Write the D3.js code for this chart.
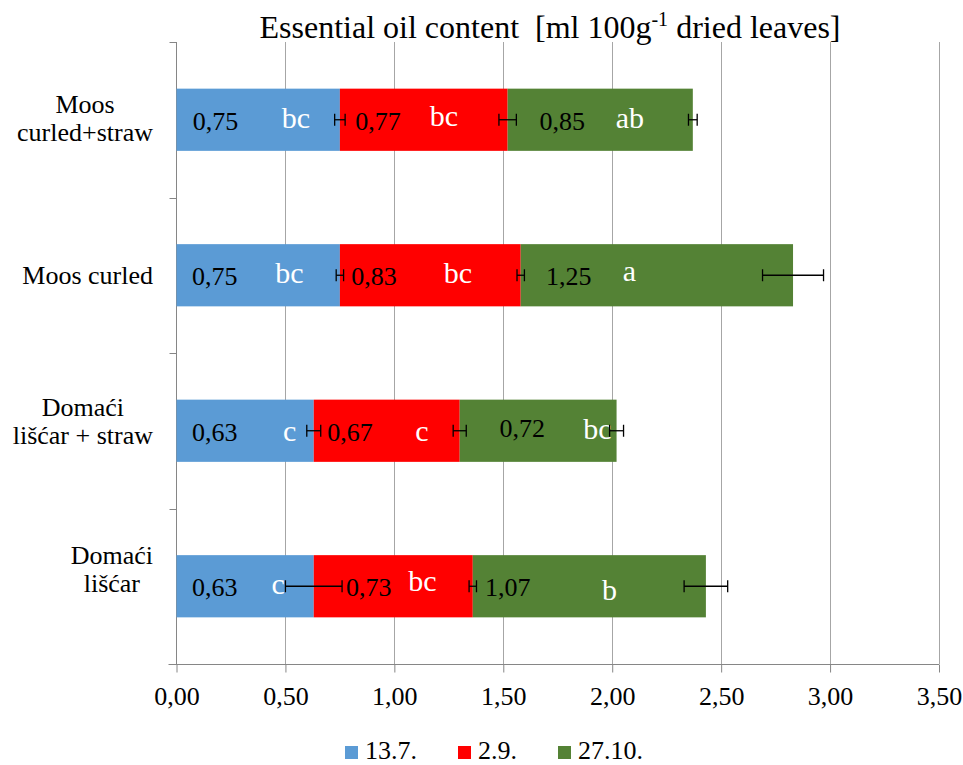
<!DOCTYPE html>
<html><head><meta charset="utf-8">
<script src="https://cdn.jsdelivr.net/npm/d3@7"></script>
<style>
html,body{margin:0;padding:0;background:#fff;}
svg{display:block;}
svg text{font-family:"Liberation Serif","Times New Roman",serif;}
</style></head>
<body>
<svg id="chart" width="963" height="765"></svg>
<script>
// ---- data ----
const categories = ["Moos curled+straw", "Moos curled", "Domaći lišćar + straw", "Domaći lišćar"];
const categoryLines = [["Moos", "curled+straw"], ["Moos curled"], ["Domaći", "lišćar + straw"], ["Domaći", "lišćar"]];
const seriesNames = ["13.7.", "2.9.", "27.10."];
const values137 = [0.75, 0.75, 0.63, 0.63];
const values29 = [0.77, 0.83, 0.67, 0.73];
const values2710 = [0.85, 1.25, 0.72, 1.07];
const err137 = [0.024, 0.017, 0.032, 0.13];
const err29 = [0.04, 0.017, 0.03, 0.017];
const err2710 = [0.02, 0.14, 0.032, 0.10];
const letters137 = ["bc", "bc", "c", "c"];
const letters29 = ["bc", "bc", "c", "bc"];
const letters2710 = ["ab", "a", "bc", "b"];
const xTicks = [0, 0.5, 1, 1.5, 2, 2.5, 3, 3.5];

// ---- layout (annotation anchors, in axis units) ----
const valueLabelAt = [[0.179, 0.925, 1.771], [0.175, 0.906, 1.80], [0.175, 0.796, 1.587], [0.175, 0.883, 1.52]];
const letterAt = [[0.548, 1.228, 2.081], [0.518, 1.292, 2.079], [0.52, 1.126, 1.932], [0.467, 1.129, 1.987]];
const valueDy = [[0, 0, 0], [0, 0, 0], [0, 0, -4], [0, 0, 0]];
const letterDy = [[0, -2, 0], [0, 0, -2], [2, 2, 0], [0, -3, 6]];
const catLabelShift = [-2, 0, -10, -17];

(function () {
const FONT = "'Liberation Serif', 'Times New Roman', serif";
const colors = ["#5B9BD5", "#FF0000", "#548235"];
const seriesVals = [values137, values29, values2710];
const seriesErr = [err137, err29, err2710];
const seriesLetters = [letters137, letters29, letters2710];

const svg = d3.select("#chart");
const pL = 176.5, pR = 939, pT = 42, pB = 664;

const x = d3.scaleLinear().domain([0, 3.5]).range([pL, pR]);
const y = d3.scaleBand().domain(categories).range([pT, pB]).paddingInner(0.6).paddingOuter(0.3);

// gridlines
svg.append("g").selectAll("line").data(xTicks.slice(1)).join("line")
  .attr("x1", d => Math.round(x(d)) + 0.5).attr("x2", d => Math.round(x(d)) + 0.5)
  .attr("y1", pT).attr("y2", pB)
  .attr("stroke", "#a6a6a6").attr("stroke-width", 1);

// x axis
const xAxis = d3.axisBottom(x).tickValues(xTicks)
  .tickFormat(d => d3.format(".2f")(d).replace(".", ","))
  .tickSize(8).tickPadding(14);
const gx = svg.append("g").attr("transform", `translate(0,${pB + 0.5})`).call(xAxis)
  .attr("font-family", FONT).attr("font-size", 26);
gx.select(".domain").attr("stroke", "#868686").attr("d", `M${pL - 8},0H${pR}`);
gx.selectAll(".tick line").attr("stroke", "#868686");
gx.selectAll(".tick text").attr("fill", "#000");

// y axis line and boundary ticks
svg.append("line").attr("x1", pL).attr("x2", pL).attr("y1", pT).attr("y2", pB)
  .attr("stroke", "#868686");
const bounds = d3.range(categories.length + 1).map(i => pT + i * (pB - pT) / categories.length);
svg.append("g").selectAll("line").data(bounds).join("line")
  .attr("x1", pL - 7).attr("x2", pL).attr("y1", d => Math.round(d) + 0.5).attr("y2", d => Math.round(d) + 0.5)
  .attr("stroke", "#868686");

// category labels
categories.forEach((c, i) => {
  const cy = y(c) + y.bandwidth() / 2;
  const lines = categoryLines[i];
  const t = svg.append("text").attr("font-size", 26).attr("fill", "#000").attr("text-anchor", "middle");
  const spans = lines.map(l => t.append("tspan").text(l));
  const maxW = d3.max(spans, s => s.node().getComputedTextLength());
  const cx = 153 - maxW / 2;
  const first = lines.length === 1 ? cy + 9 : cy + 9 - 14 + catLabelShift[i];
  spans.forEach((s, j) => s.attr("x", cx).attr("y", first + j * 28));
});

// stacked bars
const rows = categories.map((c, i) => {
  let acc = 0;
  return seriesVals.map((v, s) => {
    const d = {cat: c, i, s, x0: acc, x1: acc + v[i], v: v[i], err: seriesErr[s][i], letter: seriesLetters[s][i]};
    acc += v[i];
    return d;
  });
}).flat();

svg.append("g").selectAll("rect").data(rows).join("rect")
  .attr("x", d => x(d.x0)).attr("width", d => x(d.x1) - x(d.x0))
  .attr("y", d => y(d.cat)).attr("height", y.bandwidth())
  .attr("fill", d => colors[d.s]);

// value labels
svg.append("g").selectAll("text").data(rows).join("text")
  .attr("x", d => x(valueLabelAt[d.i][d.s]))
  .attr("y", d => y(d.cat) + y.bandwidth() / 2 + 10 + valueDy[d.i][d.s])
  .attr("text-anchor", "middle").attr("font-size", 26).attr("fill", "#000")
  .text(d => d3.format(".2f")(d.v).replace(".", ","));

// letters
svg.append("g").selectAll("text").data(rows).join("text")
  .attr("x", d => x(letterAt[d.i][d.s]))
  .attr("y", d => y(d.cat) + y.bandwidth() / 2 + 8 + letterDy[d.i][d.s])
  .attr("text-anchor", "middle").attr("font-size", 30).attr("fill", "#fff")
  .text(d => d.letter);

// error bars
const eb = svg.append("g").attr("stroke", "#000").attr("stroke-width", 1.3).attr("fill", "none");
rows.forEach(d => {
  const cy = y(d.cat) + y.bandwidth() / 2;
  const a = x(d.x1 - d.err), b = x(d.x1 + d.err);
  eb.append("line").attr("x1", a).attr("x2", b).attr("y1", cy).attr("y2", cy);
  eb.append("line").attr("x1", a).attr("x2", a).attr("y1", cy - 6).attr("y2", cy + 6);
  eb.append("line").attr("x1", b).attr("x2", b).attr("y1", cy - 6).attr("y2", cy + 6);
});

// title
const title = svg.append("text").attr("font-size", 32).attr("fill", "#000")
  .attr("x", 550).attr("y", 37.5).attr("text-anchor", "middle");
title.append("tspan").text("Essential oil content\u00a0\u00a0[ml 100g");
title.append("tspan").attr("font-size", 20).attr("dy", -12).text("-1");
title.append("tspan").attr("dy", 12).text(" dried leaves]");

// legend
const legX = [345, 458, 558];
const leg = svg.append("g").selectAll("g").data(seriesNames).join("g")
  .attr("transform", (d, i) => `translate(${legX[i]},746)`);
leg.append("rect").attr("width", 13).attr("height", 13).attr("fill", (d, i) => colors[i]);
leg.append("text").attr("x", 20).attr("y", 13).attr("font-size", 26).attr("fill", "#000").text(d => d);
})();
</script>
</body></html>
